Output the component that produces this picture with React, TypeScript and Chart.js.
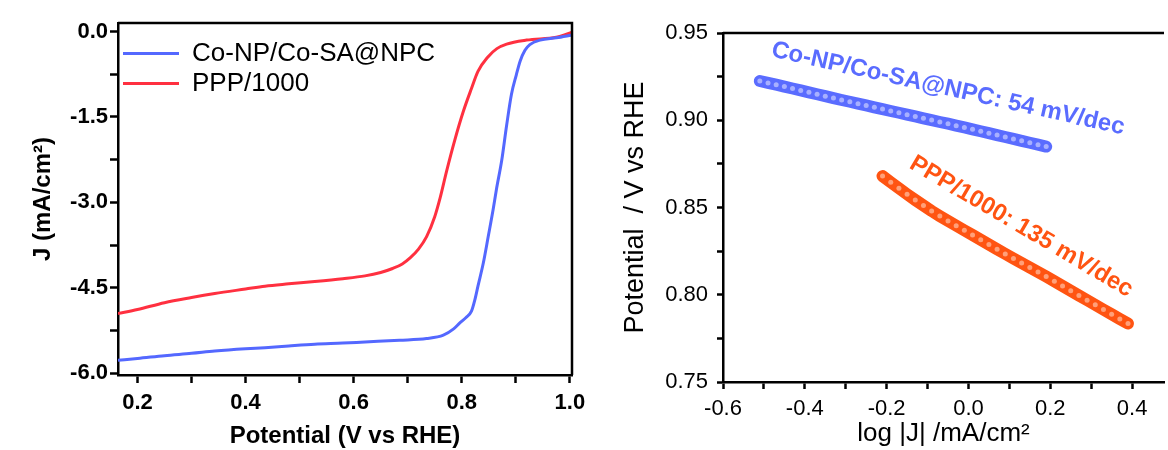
import React, { useEffect, useRef } from 'react';
import { Chart, registerables } from 'chart.js';
Chart.register(...registerables);

// ---------- DATA ----------
const seriesNames = ['Co-NP/Co-SA@NPC', 'PPP/1000'];

// LSV (left panel)
const lsvPotentialBlue = [0.164, 0.2, 0.25, 0.3, 0.343, 0.4, 0.436, 0.48, 0.528, 0.58, 0.621, 0.685, 0.735, 0.766, 0.785, 0.796, 0.808, 0.818, 0.824, 0.83, 0.84, 0.849, 0.858, 0.864, 0.874, 0.883, 0.892, 0.901, 0.908, 0.917, 0.926, 0.945, 0.975, 1.004];
const lsvCurrentBlue = [-5.77, -5.74, -5.69, -5.65, -5.61, -5.57, -5.55, -5.52, -5.49, -5.47, -5.45, -5.42, -5.39, -5.33, -5.22, -5.12, -5.02, -4.91, -4.72, -4.47, -4.06, -3.6, -3.13, -2.78, -2.26, -1.65, -1.1, -0.76, -0.52, -0.33, -0.23, -0.15, -0.11, -0.06];
const lsvPotentialRed = [0.164, 0.2, 0.25, 0.3, 0.343, 0.4, 0.436, 0.48, 0.528, 0.58, 0.621, 0.65, 0.672, 0.69, 0.705, 0.72, 0.735, 0.75, 0.76, 0.772, 0.787, 0.803, 0.818, 0.83, 0.848, 0.865, 0.883, 0.92, 0.975, 0.99, 1.004];
const lsvCurrentRed = [-4.95, -4.88, -4.76, -4.67, -4.6, -4.52, -4.47, -4.43, -4.39, -4.34, -4.29, -4.23, -4.16, -4.08, -3.97, -3.82, -3.6, -3.25, -2.92, -2.45, -1.91, -1.4, -1.0, -0.7, -0.45, -0.3, -0.22, -0.15, -0.1, -0.06, -0.01];

// Tafel (right panel)
const tafelLogJBlue = [-0.51, -0.49, -0.47, -0.45, -0.43, -0.41, -0.39, -0.37, -0.35, -0.33, -0.31, -0.29, -0.27, -0.25, -0.23, -0.21, -0.19, -0.17, -0.15, -0.13, -0.11, -0.09, -0.07, -0.05, -0.03, -0.01, 0.01, 0.03, 0.05, 0.07, 0.09, 0.11, 0.13, 0.15, 0.17, 0.19];
const tafelPotentialBlue = [0.9225, 0.9214, 0.9204, 0.9193, 0.9182, 0.9171, 0.916, 0.9149, 0.9138, 0.9127, 0.9116, 0.9106, 0.9095, 0.9085, 0.9074, 0.9064, 0.9053, 0.9043, 0.9032, 0.9022, 0.9011, 0.9001, 0.899, 0.898, 0.8969, 0.8959, 0.8948, 0.8937, 0.8926, 0.8915, 0.8904, 0.8893, 0.8882, 0.8871, 0.886, 0.8849];
const tafelLogJRed = [-0.21, -0.19, -0.17, -0.15, -0.13, -0.11, -0.09, -0.07, -0.05, -0.03, -0.01, 0.01, 0.03, 0.05, 0.07, 0.09, 0.11, 0.13, 0.15, 0.17, 0.19, 0.21, 0.23, 0.25, 0.27, 0.29, 0.31, 0.33, 0.35, 0.37, 0.39];
const tafelPotentialRed = [0.868, 0.8645, 0.861, 0.8576, 0.8543, 0.8511, 0.848, 0.8451, 0.8423, 0.8396, 0.8369, 0.8342, 0.8315, 0.8288, 0.8261, 0.8234, 0.8208, 0.8182, 0.8156, 0.813, 0.8104, 0.8077, 0.805, 0.8023, 0.7996, 0.7969, 0.7942, 0.7915, 0.7888, 0.7861, 0.7835];
const tafelSlopeLabels = ['Co-NP/Co-SA@NPC: 54 mV/dec', 'PPP/1000: 135 mV/dec'];

// ---------- STYLE ----------
const FONT = '"Liberation Sans", Arial, Helvetica, sans-serif';
const BLUE = '#5468ff';
const RED = '#ff3040';
const T_BLUE = '#5a6cff';
const T_ORANGE = '#ff5412';

const isMult = (v: number, step: number) => Math.abs(v / step - Math.round(v / step)) < 1e-6;
const fmt = (v: number, d: number) => (Math.abs(v) < 1e-9 ? (0).toFixed(d) : v.toFixed(d));
const pts = (xs: number[], ys: number[]) => xs.map((x, i) => ({ x, y: ys[i] }));

const boxPlugin = (withRight: boolean) => ({
  id: 'boxFrame',
  afterDraw(chart: any) {
    const { ctx, chartArea } = chart;
    const { left, right, top, bottom } = chartArea;
    ctx.save();
    ctx.strokeStyle = '#000';
    ctx.lineWidth = 2.5;
    ctx.beginPath();
    ctx.moveTo(left, top);
    ctx.lineTo(right, top);
    if (withRight) ctx.lineTo(right, bottom);
    ctx.stroke();
    ctx.restore();
  },
});

const legendShift = {
  id: 'legendShift',
  afterLayout(chart: any) {
    const lg = chart.legend;
    if (!lg) return;
    lg.top += 36.5;
    lg.bottom += 36.5;
    lg.left += 1;
    lg.right += 1;
  },
};

// annotation placement (data coordinates) and rotation
const annotAnchors = [
  { x: -0.05, y: 0.918, angle: 12.5, color: T_BLUE },
  { x: 0.129, y: 0.839, angle: 30.6, color: T_ORANGE },
];
const annotPlugin = {
  id: 'slopeText',
  afterDatasetsDraw(chart: any) {
    const { ctx } = chart;
    const xs = chart.scales.x;
    const ys = chart.scales.y;
    tafelSlopeLabels.forEach((t, i) => {
      const a = annotAnchors[i];
      ctx.save();
      ctx.translate(xs.getPixelForValue(a.x), ys.getPixelForValue(a.y));
      ctx.rotate((a.angle * Math.PI) / 180);
      ctx.font = `bold 24px ${FONT}`;
      ctx.fillStyle = a.color;
      ctx.textAlign = 'center';
      ctx.textBaseline = 'middle';
      ctx.fillText(t, 0, 0);
      ctx.restore();
    });
  },
};

export default function App() {
  const leftRef = useRef<HTMLCanvasElement>(null);
  const rightRef = useRef<HTMLCanvasElement>(null);

  useEffect(() => {
    const tickGrid = (len: number) => ({
      display: true,
      drawOnChartArea: false,
      drawTicks: true,
      tickLength: len,
      tickColor: '#000',
      tickWidth: 2.5,
    });
    const border = { display: true, color: '#000', width: 2.5 };

    const left = new Chart(leftRef.current as HTMLCanvasElement, {
      type: 'scatter',
      data: {
        datasets: [
          {
            label: seriesNames[0],
            data: pts(lsvPotentialBlue, lsvCurrentBlue),
            showLine: true,
            borderColor: BLUE,
            backgroundColor: BLUE,
            borderWidth: 3,
            pointRadius: 0,
            cubicInterpolationMode: 'monotone',
          },
          {
            label: seriesNames[1],
            data: pts(lsvPotentialRed, lsvCurrentRed),
            showLine: true,
            borderColor: RED,
            backgroundColor: RED,
            borderWidth: 3,
            pointRadius: 0,
            cubicInterpolationMode: 'monotone',
          },
        ],
      },
      options: {
        animation: false,
        responsive: false,
        layout: { padding: { left: 0, right: 18, top: 23, bottom: 0 } },
        plugins: {
          tooltip: { enabled: false },
          legend: {
            display: true,
            position: 'chartArea',
            align: 'start',
            labels: {
              boxWidth: 56,
              boxHeight: 0,
              padding: 4,
              color: '#000',
              font: { family: FONT, size: 26 },
            },
          },
        },
        scales: {
          x: {
            type: 'linear',
            min: 0.164,
            max: 1.004,
            afterFit: (s: any) => {
              s.height = 75;
              s.paddingLeft = 0;
              s.paddingRight = 0;
            },
            border,
            grid: tickGrid(8),
            ticks: {
              stepSize: 0.1,
              includeBounds: false,
              autoSkip: false,
              maxRotation: 0,
              padding: 7,
              color: '#000',
              font: { family: FONT, size: 22, weight: 'bold' },
              callback: (v: any) => (isMult(v, 0.2) ? fmt(v, 1) : ''),
            },
            title: {
              display: true,
              text: 'Potential (V vs RHE)',
              color: '#000',
              font: { family: FONT, size: 24, weight: 'bold' },
              padding: { top: 0, bottom: -1 },
            },
          },
          y: {
            type: 'linear',
            min: -6.03,
            max: 0.15,
            afterFit: (s: any) => {
              s.width = 118;
              s.paddingTop = 0;
              s.paddingBottom = 0;
            },
            border,
            grid: tickGrid(8),
            ticks: {
              stepSize: 0.75,
              includeBounds: false,
              autoSkip: false,
              padding: 2,
              color: '#000',
              font: { family: FONT, size: 22, weight: 'bold' },
              callback: (v: any) => (isMult(v, 1.5) ? fmt(v, 1) : ''),
            },
            title: {
              display: true,
              text: 'J (mA/cm²)',
              color: '#000',
              font: { family: FONT, size: 24, weight: 'bold' },
              padding: { top: 29, bottom: 0 },
            },
          },
        },
      },
      plugins: [boxPlugin(true), legendShift],
    } as any);

    const right = new Chart(rightRef.current as HTMLCanvasElement, {
      type: 'scatter',
      data: {
        datasets: [
          {
            label: seriesNames[0],
            data: pts(tafelLogJBlue, tafelPotentialBlue),
            showLine: true,
            borderColor: T_BLUE,
            borderWidth: 12,
            borderCapStyle: 'round',
            borderJoinStyle: 'round',
            pointRadius: 2.5,
            pointBorderWidth: 0,
            pointBackgroundColor: '#a8b0ff',
          },
          {
            label: seriesNames[1],
            data: pts(tafelLogJRed, tafelPotentialRed),
            showLine: true,
            borderColor: T_ORANGE,
            borderWidth: 12,
            borderCapStyle: 'round',
            borderJoinStyle: 'round',
            pointRadius: 2.5,
            pointBorderWidth: 0,
            pointBackgroundColor: '#ffa07a',
          },
        ],
      },
      options: {
        animation: false,
        responsive: false,
        layout: { padding: { left: 0, right: 0, top: 33, bottom: 0 } },
        plugins: { tooltip: { enabled: false }, legend: { display: false } },
        scales: {
          x: {
            type: 'linear',
            min: -0.60001,
            max: 0.478,
            afterFit: (s: any) => {
              s.height = 68;
              s.paddingLeft = 0;
              s.paddingRight = 0;
            },
            border,
            grid: tickGrid(7),
            ticks: {
              stepSize: 0.1,
              includeBounds: false,
              autoSkip: false,
              maxRotation: 0,
              padding: 7,
              color: '#000',
              font: { family: FONT, size: 22 },
              callback: (v: any) => (isMult(v, 0.2) ? fmt(v, 1) : ''),
            },
            title: {
              display: true,
              text: 'log |J| /mA/cm²',
              color: '#000',
              font: { family: FONT, size: 26 },
              padding: { top: 0, bottom: 1 },
            },
          },
          y: {
            type: 'linear',
            min: 0.75,
            max: 0.95,
            afterFit: (s: any) => {
              s.width = 133;
              s.paddingTop = 0;
              s.paddingBottom = 0;
            },
            border,
            grid: tickGrid(6),
            ticks: {
              stepSize: 0.025,
              includeBounds: false,
              autoSkip: false,
              padding: 9,
              color: '#000',
              font: { family: FONT, size: 22 },
              callback: (v: any) => (isMult(v, 0.05) ? fmt(v, 2) : ''),
            },
            title: {
              display: true,
              text: 'Potential  / V vs RHE',
              color: '#000',
              font: { family: FONT, size: 27 },
              padding: { top: 29, bottom: 0 },
            },
          },
        },
      },
      plugins: [boxPlugin(false), annotPlugin],
    } as any);

    return () => {
      left.destroy();
      right.destroy();
    };
  }, []);

  return (
    <div style={{ position: 'fixed', left: 0, top: 0, width: 1168, height: 450, background: '#fff', overflow: 'hidden' }}>
      <div style={{ position: 'absolute', left: 0, top: 0, width: 590, height: 450 }}>
        <canvas ref={leftRef} width={590} height={450} style={{ display: 'block' }} />
      </div>
      <div style={{ position: 'absolute', left: 590, top: 0, width: 578, height: 450 }}>
        <canvas ref={rightRef} width={578} height={450} style={{ display: 'block' }} />
      </div>
    </div>
  );
}
